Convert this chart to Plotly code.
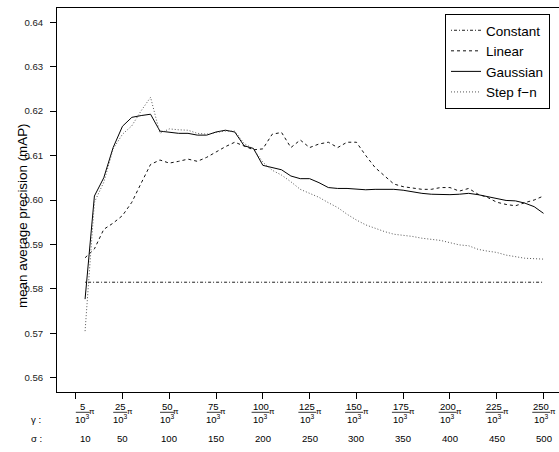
import plotly.graph_objects as go

# ---------------- data ----------------
sigma = [10, 20, 30, 40, 50, 60, 70, 80, 90, 100,
         110, 120, 130, 140, 150, 160, 170, 180, 190, 200,
         210, 220, 230, 240, 250, 260, 270, 280, 290, 300,
         310, 320, 330, 340, 350, 360, 370, 380, 390, 400,
         410, 420, 430, 440, 450, 460, 470, 480, 490, 500]

constant = [0.5815, 0.5815, 0.5815, 0.5815, 0.5815, 0.5815, 0.5815, 0.5815, 0.5815, 0.5815,
            0.5815, 0.5815, 0.5815, 0.5815, 0.5815, 0.5815, 0.5815, 0.5815, 0.5815, 0.5815,
            0.5815, 0.5815, 0.5815, 0.5815, 0.5815, 0.5815, 0.5815, 0.5815, 0.5815, 0.5815,
            0.5815, 0.5815, 0.5815, 0.5815, 0.5815, 0.5815, 0.5815, 0.5815, 0.5815, 0.5815,
            0.5815, 0.5815, 0.5815, 0.5815, 0.5815, 0.5815, 0.5815, 0.5815, 0.5815, 0.5815]

linear = [0.5870, 0.5890, 0.5934, 0.5948, 0.5965, 0.5995, 0.6038, 0.6080, 0.6090, 0.6083,
          0.6087, 0.6092, 0.6087, 0.6096, 0.6108, 0.6120, 0.6130, 0.6122, 0.6113, 0.6115,
          0.6148, 0.6152, 0.6118, 0.6135, 0.6118, 0.6126, 0.6130, 0.6118, 0.6130, 0.6130,
          0.6100, 0.6073, 0.6054, 0.6036, 0.6030, 0.6027, 0.6024, 0.6024, 0.6028, 0.6028,
          0.6020, 0.6026, 0.6013, 0.6006, 0.5995, 0.5990, 0.5987, 0.5994, 0.6000, 0.6009]

gaussian = [0.5777, 0.6009, 0.6050, 0.6118, 0.6166, 0.6186, 0.6190, 0.6193, 0.6155, 0.6152,
            0.6150, 0.6150, 0.6146, 0.6146, 0.6153, 0.6157, 0.6153, 0.6122, 0.6116, 0.6078,
            0.6073, 0.6068, 0.6054, 0.6048, 0.6048, 0.6039, 0.6028, 0.6026, 0.6026, 0.6024,
            0.6023, 0.6024, 0.6024, 0.6024, 0.6022, 0.6018, 0.6015, 0.6013, 0.6012, 0.6012,
            0.6013, 0.6015, 0.6012, 0.6008, 0.6003, 0.5999, 0.5998, 0.5993, 0.5985, 0.5970]

step_fn = [0.5705, 0.5995, 0.6040, 0.6115, 0.6148, 0.6167, 0.6201, 0.6231, 0.6150, 0.6160,
           0.6158, 0.6157, 0.6150, 0.6148, 0.6152, 0.6155, 0.6155, 0.6127, 0.6115, 0.6085,
           0.6067, 0.6056, 0.6041, 0.6024, 0.6015, 0.6006, 0.5994, 0.5983, 0.5968, 0.5955,
           0.5944, 0.5936, 0.5929, 0.5923, 0.5921, 0.5918, 0.5914, 0.5912, 0.5909, 0.5904,
           0.5899, 0.5897, 0.5889, 0.5885, 0.5882, 0.5876, 0.5872, 0.5869, 0.5868, 0.5867]

series_names = ["Constant", "Linear", "Gaussian", "Step f\u2212n"]

x_tick_vals = [0, 50, 100, 150, 200, 250, 300, 350, 400, 450, 500]
label_pos = [10, 50, 100, 150, 200, 250, 300, 350, 400, 450, 500]
gamma_num = ["5", "25", "50", "75", "100", "125", "150", "175", "200", "225", "250"]
sigma_text = ["10", "50", "100", "150", "200", "250", "300", "350", "400", "450", "500"]
y_tick_vals = [0.56, 0.57, 0.58, 0.59, 0.60, 0.61, 0.62, 0.63, 0.64]

# ---------------- figure ----------------
FONT = "Liberation Sans, Arial, Helvetica, sans-serif"
W, H = 559, 452
ML, MR, MT, MB = 57, 0, 8, 60
PH = H - MT - MB


def py(pix):
    """pixel row -> paper y"""
    return (H - MB - pix) / PH


styles = [
    dict(color="#222222", dash="1px,2px,3px,2px", width=1),
    dict(color="#111111", dash="3px,3px", width=1),
    dict(color="#000000", dash="solid", width=1),
    dict(color="#555555", dash="1px,2px", width=1),
]
values = [constant, linear, gaussian, step_fn]

fig = go.Figure()
for name, vals, st in zip(series_names, values, styles):
    fig.add_trace(go.Scatter(x=sigma, y=vals, mode="lines", name=name, line=st))

annotations = []
shapes = []
for pos, g, s in zip(label_pos, gamma_num, sigma_text):
    w = 18 if len(g) >= 3 else 14
    off = -2.25
    annotations.append(dict(x=pos, y=py(406.7), xref="x", yref="paper", text=g, showarrow=False,
                            xshift=off, xanchor="center", yanchor="middle",
                            font=dict(size=9.5, family=FONT, color="black")))
    annotations.append(dict(x=pos, y=py(419.0), xref="x", yref="paper", text="10<sup>3</sup>",
                            showarrow=False, xshift=off, xanchor="center", yanchor="middle",
                            font=dict(size=9.5, family=FONT, color="black")))
    annotations.append(dict(x=pos, y=py(411), xref="x", yref="paper", text="\u03c0", showarrow=False,
                            xshift=off + w / 2 + 2.4, xanchor="center", yanchor="middle",
                            font=dict(size=8, family=FONT, color="black")))
    shapes.append(dict(type="line", xref="x", yref="paper", xsizemode="pixel", xanchor=pos,
                       x0=off - w / 2, x1=off + w / 2, y0=py(412.3), y1=py(412.3),
                       line=dict(color="black", width=0.8)))
    annotations.append(dict(x=pos, y=py(438), xref="x", yref="paper", text=s, showarrow=False,
                            xanchor="center", yanchor="middle",
                            font=dict(size=9.6, family=FONT, color="black")))

annotations.append(dict(x=0, xshift=36 - ML, y=py(419), xref="paper", yref="paper",
                        text="\u03b3 :", showarrow=False, xanchor="center", yanchor="middle",
                        font=dict(size=9.6, family=FONT, color="black")))
annotations.append(dict(x=0, xshift=36 - ML, y=py(438.5), xref="paper", yref="paper",
                        text="\u03c3 :", showarrow=False, xanchor="center", yanchor="middle",
                        font=dict(size=9.6, family=FONT, color="black")))
annotations.append(dict(x=0, xshift=22 - ML, y=py(216), xref="paper", yref="paper",
                        text="mean average precision (mAP)", showarrow=False, textangle=-90,
                        xanchor="center", yanchor="middle",
                        font=dict(size=13.4, family=FONT, color="black")))

fig.update_layout(
    width=W, height=H,
    margin=dict(l=ML, r=MR, t=MT, b=MB, pad=0),
    plot_bgcolor="white", paper_bgcolor="white",
    font=dict(family=FONT, color="black"),
    showlegend=True,
    xaxis=dict(range=[-20, -20 + (W - ML - MR) / 0.9356], tickmode="array", tickvals=x_tick_vals,
               showticklabels=False, ticks="outside", ticklen=6, tickcolor="black", tickwidth=1,
               showline=True, linecolor="black", linewidth=1, mirror=True,
               showgrid=False, zeroline=False),
    yaxis=dict(range=[0.5568, 0.6432], tickmode="array", tickvals=y_tick_vals, tickformat=".2f",
               ticks="outside", ticklen=6, tickcolor="black", tickwidth=1,
               showline=True, linecolor="black", linewidth=1, ticklabelstandoff=5,
               showgrid=False, zeroline=False, tickfont=dict(size=9.6, color="#222222")),
    legend=dict(x=(445 - ML) / (W - ML - MR), y=py(14), xanchor="left", yanchor="top",
                bordercolor="black", borderwidth=1, bgcolor="white",
                font=dict(size=13.5, family=FONT, color="black")),
    annotations=annotations,
    shapes=shapes,
)

fig.write_html("out.html", config={"displayModeBar": False},
               post_script="document.body.style.margin='0px';")
